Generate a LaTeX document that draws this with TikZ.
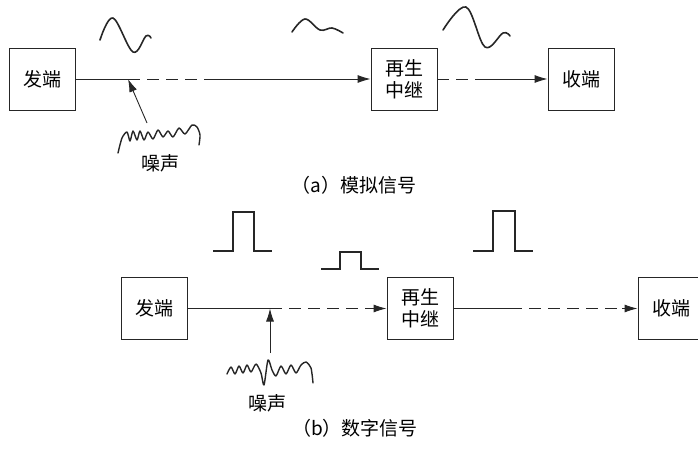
\documentclass[tikz,border=0pt]{standalone}
\usepackage{fontspec}
\newfontfamily\cjk{Noto Sans CJK SC}
\usetikzlibrary{arrows.meta}

\tikzset{
  blk/.style={draw, line width=0.9pt, minimum width=66pt, minimum height=62pt,
    inner sep=0pt, align=center, text=black, font=\cjk\fontsize{19}{22}\selectfont},
  lbl/.style={font=\cjk\fontsize{19}{22}\selectfont, text=black, inner sep=0pt},
  sig/.style={line width=0.9pt},
  arr/.style={line width=0.9pt, -{Latex[length=13pt,width=8pt]}},
  dsh/.style={line width=0.9pt, dash pattern=on 12pt off 7pt},
  wave/.style={line width=1.6pt, line join=round, line cap=round},
}

\begin{document}
\begin{tikzpicture}[x=1pt, y=-1pt, black!85]
                \useasboundingbox (0,0) rectangle (698,449);

                % (a) analog
                \node[blk] (txa) at (42,79) {发端};
                \node[blk] (rga) at (404,79) {再生\\中继};
                \node[blk] (rxa) at (581,79) {收端};
                \coordinate (na) at (128,79);
                \coordinate (ea) at (213,79);
                \coordinate (fa) at (485,79);

                \draw[sig] (txa) -- (na);
                \draw[dsh] (na) -- (ea);
                \draw[arr] (ea) -- (rga);
                \draw[dsh] (rga) -- (fa);
                \draw[arr] (fa) -- (rxa);

                \draw[wave] plot[smooth, tension=0.6] coordinates {(100,40) (113,18) (133,52) (146,36) (151,38)};
                \draw[wave] plot[smooth, tension=0.6] coordinates {(292,32) (305,19) (320,30) (332,28) (343,33)};
                \draw[wave] plot[smooth, tension=0.6] coordinates {(443,30) (466,7) (485,47) (503,33) (510,36)};

                \coordinate (sa) at (147,123);
                \draw[arr] (sa) -- (na);
                \draw[wave, line width=1.4pt] plot[smooth, tension=0.45] coordinates {(118,153) (122,138) (127,132) (130,141)
                    (133,131) (137,140) (140,131) (144,140) (148,132) (153,139) (158,130) (163,137)
                    (168,131) (173,137) (179,128) (185,134) (192,125) (197,127) (200,135) (199,145)};
                \node[lbl] (nza) at (160,163) {噪声};

                \node[lbl] (capa) at (354,185) {（a）模拟信号};

                % (b) digital
                \node[blk] (txb) at (154.5,308.5) {发端};
                \node[blk] (rgb) at (420,308.5) {再生\\中继};
                \node[blk] (rxb) at (671,308.5) {收端};
                \coordinate (nb) at (270,308.5);
                \coordinate (eb) at (371,308.5);
                \coordinate (fb) at (510,308.5);
                \coordinate (gb) at (622,308.5);

                \draw[sig] (txb) -- (nb);
                \draw[dsh] (nb) -- (eb);
                \draw[arr] (eb) -- (rgb);
                \draw[sig] (rgb) -- (fb);
                \draw[dsh] (fb) -- (gb);
                \draw[arr] (gb) -- (rxb);

                \draw[sig, line width=1.2pt] (213,251) -- (233,251) -- (233,212) -- (254,212) -- (254,251) -- (272,251);
                \draw[sig, line width=1.2pt] (321,269) -- (340,269) -- (340,252) -- (361,252) -- (361,269) -- (379,269);
                \draw[sig, line width=1.2pt] (473,251) -- (493,251) -- (493,211) -- (515,211) -- (515,251) -- (533,251);

                \coordinate (sb) at (270,353);
                \draw[arr] (sb) -- (nb);
                \draw[wave, line width=1.4pt] plot[smooth, tension=0.45] coordinates {(227,374) (231,367) (235,374) (239,366)
                    (243,373) (247,365) (251,372) (256,364) (261,373) (264,385) (268,360) (272,370)
                    (276,376) (281,366) (286,374) (291,365) (296,373) (301,365) (306,362) (311,368) (313,383)};
                \node[lbl] (nzb) at (267,403) {噪声};

                \node[lbl] (capb) at (355,428) {（b）数字信号};
\end{tikzpicture}
\end{document}
